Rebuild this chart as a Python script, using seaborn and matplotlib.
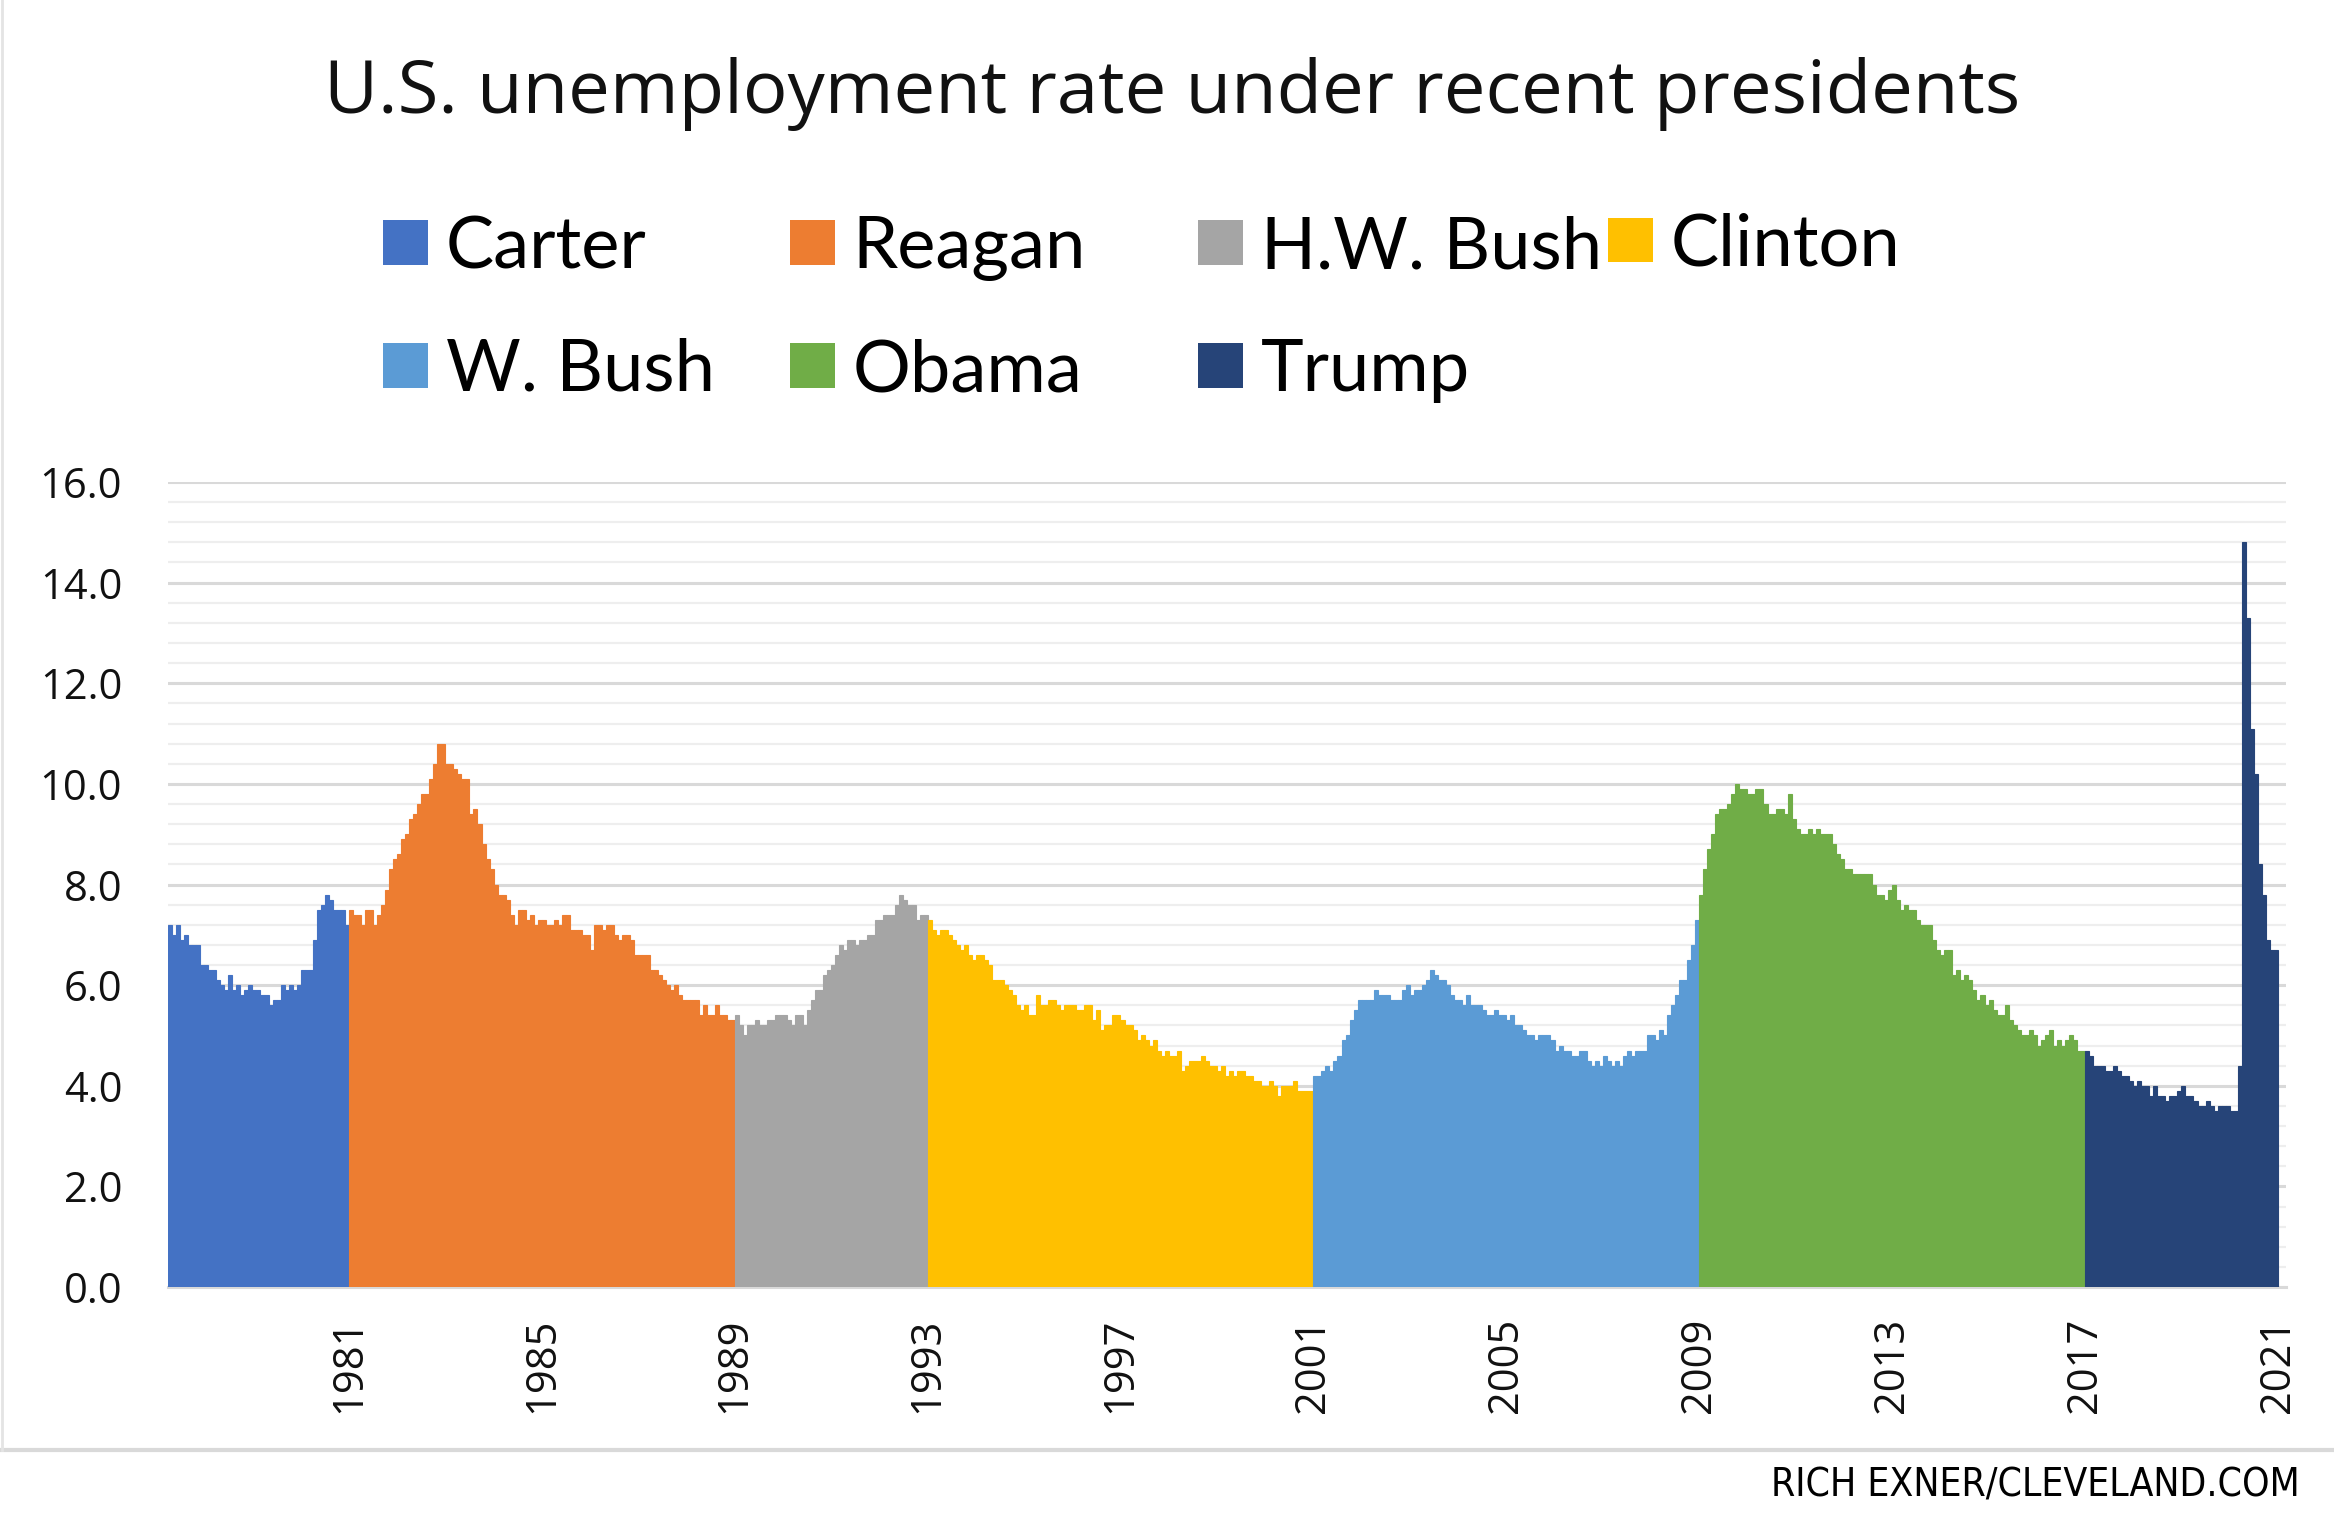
import numpy as np
import pandas as pd
import seaborn as sns
import matplotlib
matplotlib.use("Agg")
import matplotlib.pyplot as plt
from matplotlib.patches import Patch
from matplotlib.lines import Line2D

# monthly unemployment rate (%), Apr 1977 - Dec 2020, grouped by president
carter = [7.2, 7.0, 7.2, 6.9, 7.0, 6.8, 6.8, 6.8, 6.4,
          6.4, 6.3, 6.3, 6.1, 6.0, 5.9, 6.2, 5.9, 6.0, 5.8, 5.9, 6.0,
          5.9, 5.9, 5.8, 5.8, 5.6, 5.7, 5.7, 6.0, 5.9, 6.0, 5.9, 6.0,
          6.3, 6.3, 6.3, 6.9, 7.5, 7.6, 7.8, 7.7, 7.5, 7.5, 7.5, 7.2]
reagan = [7.5, 7.4, 7.4, 7.2, 7.5, 7.5, 7.2, 7.4, 7.6, 7.9, 8.3, 8.5,
          8.6, 8.9, 9.0, 9.3, 9.4, 9.6, 9.8, 9.8, 10.1, 10.4, 10.8, 10.8,
          10.4, 10.4, 10.3, 10.2, 10.1, 10.1, 9.4, 9.5, 9.2, 8.8, 8.5, 8.3,
          8.0, 7.8, 7.8, 7.7, 7.4, 7.2, 7.5, 7.5, 7.3, 7.4, 7.2, 7.3,
          7.3, 7.2, 7.2, 7.3, 7.2, 7.4, 7.4, 7.1, 7.1, 7.1, 7.0, 7.0,
          6.7, 7.2, 7.2, 7.1, 7.2, 7.2, 7.0, 6.9, 7.0, 7.0, 6.9, 6.6,
          6.6, 6.6, 6.6, 6.3, 6.3, 6.2, 6.1, 6.0, 5.9, 6.0, 5.8, 5.7,
          5.7, 5.7, 5.7, 5.4, 5.6, 5.4, 5.4, 5.6, 5.4, 5.4, 5.3, 5.3]
hw_bush = [5.4, 5.2, 5.0, 5.2, 5.2, 5.3, 5.2, 5.2, 5.3, 5.3, 5.4, 5.4,
           5.4, 5.3, 5.2, 5.4, 5.4, 5.2, 5.5, 5.7, 5.9, 5.9, 6.2, 6.3,
           6.4, 6.6, 6.8, 6.7, 6.9, 6.9, 6.8, 6.9, 6.9, 7.0, 7.0, 7.3,
           7.3, 7.4, 7.4, 7.4, 7.6, 7.8, 7.7, 7.6, 7.6, 7.3, 7.4, 7.4]
clinton = [7.3, 7.1, 7.0, 7.1, 7.1, 7.0, 6.9, 6.8, 6.7, 6.8, 6.6, 6.5,
           6.6, 6.6, 6.5, 6.4, 6.1, 6.1, 6.1, 6.0, 5.9, 5.8, 5.6, 5.5,
           5.6, 5.4, 5.4, 5.8, 5.6, 5.6, 5.7, 5.7, 5.6, 5.5, 5.6, 5.6,
           5.6, 5.5, 5.5, 5.6, 5.6, 5.3, 5.5, 5.1, 5.2, 5.2, 5.4, 5.4,
           5.3, 5.2, 5.2, 5.1, 4.9, 5.0, 4.9, 4.8, 4.9, 4.7, 4.6, 4.7,
           4.6, 4.6, 4.7, 4.3, 4.4, 4.5, 4.5, 4.5, 4.6, 4.5, 4.4, 4.4,
           4.3, 4.4, 4.2, 4.3, 4.2, 4.3, 4.3, 4.2, 4.2, 4.1, 4.1, 4.0,
           4.0, 4.1, 4.0, 3.8, 4.0, 4.0, 4.0, 4.1, 3.9, 3.9, 3.9, 3.9]
w_bush = [4.2, 4.2, 4.3, 4.4, 4.3, 4.5, 4.6, 4.9, 5.0, 5.3, 5.5, 5.7,
          5.7, 5.7, 5.7, 5.9, 5.8, 5.8, 5.8, 5.7, 5.7, 5.7, 5.9, 6.0,
          5.8, 5.9, 5.9, 6.0, 6.1, 6.3, 6.2, 6.1, 6.1, 6.0, 5.8, 5.7,
          5.7, 5.6, 5.8, 5.6, 5.6, 5.6, 5.5, 5.4, 5.4, 5.5, 5.4, 5.4,
          5.3, 5.4, 5.2, 5.2, 5.1, 5.0, 5.0, 4.9, 5.0, 5.0, 5.0, 4.9,
          4.7, 4.8, 4.7, 4.7, 4.6, 4.6, 4.7, 4.7, 4.5, 4.4, 4.5, 4.4,
          4.6, 4.5, 4.4, 4.5, 4.4, 4.6, 4.7, 4.6, 4.7, 4.7, 4.7, 5.0,
          5.0, 4.9, 5.1, 5.0, 5.4, 5.6, 5.8, 6.1, 6.1, 6.5, 6.8, 7.3]
obama = [7.8, 8.3, 8.7, 9.0, 9.4, 9.5, 9.5, 9.6, 9.8, 10.0, 9.9, 9.9,
         9.8, 9.8, 9.9, 9.9, 9.6, 9.4, 9.4, 9.5, 9.5, 9.4, 9.8, 9.3,
         9.1, 9.0, 9.0, 9.1, 9.0, 9.1, 9.0, 9.0, 9.0, 8.8, 8.6, 8.5,
         8.3, 8.3, 8.2, 8.2, 8.2, 8.2, 8.2, 8.0, 7.8, 7.8, 7.7, 7.9,
         8.0, 7.7, 7.5, 7.6, 7.5, 7.5, 7.3, 7.2, 7.2, 7.2, 6.9, 6.7,
         6.6, 6.7, 6.7, 6.2, 6.3, 6.1, 6.2, 6.1, 5.9, 5.7, 5.8, 5.6,
         5.7, 5.5, 5.4, 5.4, 5.6, 5.3, 5.2, 5.1, 5.0, 5.0, 5.1, 5.0,
         4.8, 4.9, 5.0, 5.1, 4.8, 4.9, 4.8, 4.9, 5.0, 4.9, 4.7, 4.7]
trump = [4.7, 4.6, 4.4, 4.4, 4.4, 4.3, 4.3, 4.4, 4.3, 4.2, 4.2, 4.1,
         4.0, 4.1, 4.0, 4.0, 3.8, 4.0, 3.8, 3.8, 3.7, 3.8, 3.8, 3.9,
         4.0, 3.8, 3.8, 3.7, 3.6, 3.6, 3.7, 3.6, 3.5, 3.6, 3.6, 3.6,
         3.5, 3.5, 4.4, 14.8, 13.3, 11.1, 10.2, 8.4, 7.8, 6.9, 6.7, 6.7]

presidents = ["Carter", "Reagan", "H.W. Bush", "Clinton", "W. Bush", "Obama", "Trump"]
colors = ["#4472C4", "#ED7D31", "#A5A5A5", "#FFC000", "#5B9BD5", "#70AD47", "#264478"]
year_labels = ["1981", "1985", "1989", "1993", "1997", "2001", "2005", "2009", "2013", "2017", "2021"]

series = [carter, reagan, hw_bush, clinton, w_bush, obama, trump]
df = pd.DataFrame({
    "rate": np.concatenate(series),
    "president": np.repeat(presidents, [len(s) for s in series]),
})
df["month"] = np.arange(len(df))
palette = dict(zip(presidents, colors))

fig = plt.figure(figsize=(23.34, 15.36), dpi=100)
ax = fig.add_axes([0.0720, 0.1621, 0.9074, 0.5241])

sns.barplot(data=df, x="month", y="rate", hue="president", palette=palette,
            native_scale=True, dodge=False, width=1.0, saturation=1,
            errorbar=None, legend=False, ax=ax, zorder=3)
for p in ax.patches:
    p.set_edgecolor(p.get_facecolor())
    p.set_linewidth(0.8)

ax.set_xlim(-0.5, 526.5)
ax.set_ylim(0, 16)
ax.set_yticks(np.arange(0, 16.1, 2))
ax.set_yticklabels([f"{v:.1f}" for v in np.arange(0, 16.1, 2)])
ax.set_yticks(np.arange(0, 16.01, 0.4), minor=True)
ax.grid(axis="y", which="major", color="#d9d9d9", linewidth=2.2, zorder=0)
ax.grid(axis="y", which="minor", color="#eeeeee", linewidth=1.6, zorder=0)
ax.grid(axis="x", visible=False)

# year ticks on term boundaries (Jan 1981 starts at bar 45)
ax.set_xticks([44.5 + 48 * i for i in range(len(year_labels))])
ax.set_xticklabels(year_labels, rotation=90)
ax.set_xlabel("")
ax.set_ylabel("")
ax.tick_params(axis="both", which="both", length=0, labelsize=30, colors="#111111")
ax.tick_params(axis="x", pad=22)
ax.tick_params(axis="y", pad=33)
for lab in ax.get_xticklabels() + ax.get_yticklabels():
    lab.set_family(["Open Sans", "DejaVu Sans"])
for s in ["top", "right", "left"]:
    ax.spines[s].set_visible(False)
ax.spines["bottom"].set_color("#d9d9d9")
ax.spines["bottom"].set_linewidth(2.2)

fig.text(0.502, 0.939, "U.S. unemployment rate under recent presidents",
         ha="center", va="center", fontsize=53.5, family=["Open Sans", "DejaVu Sans"],
         color="#111111")

# legend in four fixed-width columns, like the spreadsheet original
columns = [["Carter", "W. Bush"], ["Reagan", "Obama"], ["H.W. Bush", "Trump"], ["Clinton"]]
col_x = [383 / 2334, 790 / 2334, 1198 / 2334, 1608 / 2334]
for names, x in zip(columns, col_x):
    handles = [Patch(facecolor=palette[n], edgecolor="none", label=n) for n in names]
    y = 1 - (309 if len(names) == 2 else 245) / 1536
    fig.legend(handles=handles, loc="center left", bbox_to_anchor=(x, y),
               frameon=False, borderpad=0, borderaxespad=0, handlelength=0.62,
               handleheight=0.58, handletextpad=0.25, labelspacing=0.8,
               prop={"family": ["Lato", "DejaVu Sans"], "size": 52})

# frame bits and credit line
fig.add_artist(Line2D([0, 1], [0.0560, 0.0560], color="#d9d9d9", linewidth=3,
                      transform=fig.transFigure))
fig.add_artist(Line2D([0.001, 0.001], [0.0560, 1], color="#e4e4e4", linewidth=2,
                      transform=fig.transFigure))
fig.text(0.9854, 0.0326, "RICH EXNER/CLEVELAND.COM", ha="right", va="center",
         fontsize=28, family="DejaVu Sans", fontstretch="condensed", color="#000000")

fig.savefig("out.png", dpi=100, facecolor="white")
